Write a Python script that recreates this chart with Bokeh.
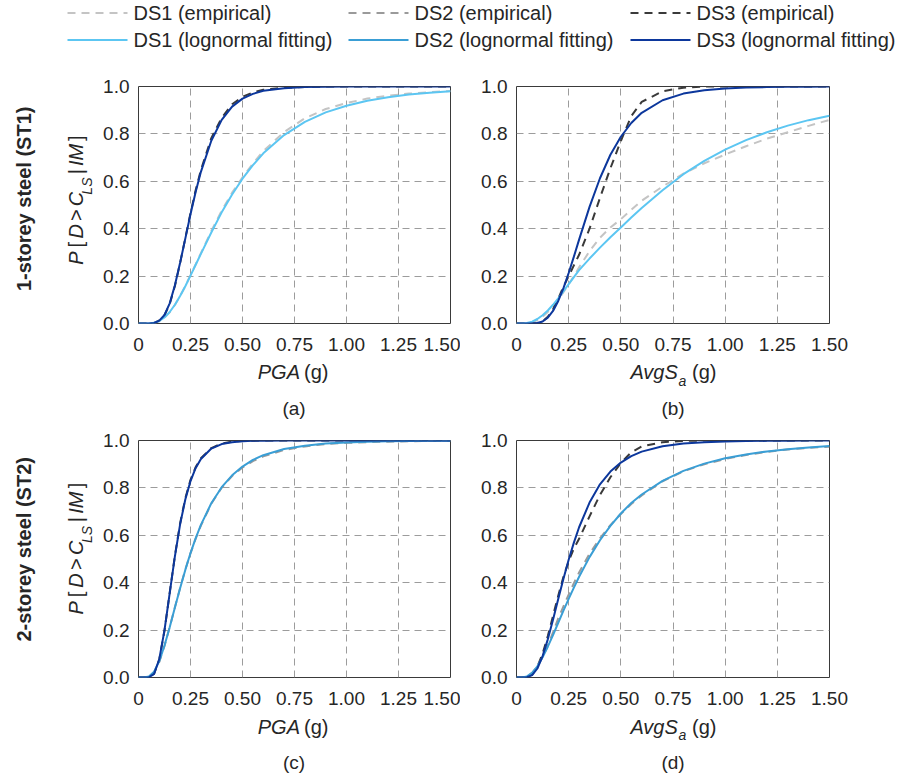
import math
from bokeh.plotting import figure
from bokeh.models import Range1d, FixedTicker, Label, CustomJSTickFormatter
from bokeh.layouts import column, row
from bokeh.embed import file_html
from bokeh.resources import INLINE

# ---------------- data ----------------
X_GRID = [0, 0.025, 0.05, 0.075, 0.1, 0.125, 0.15, 0.175, 0.2, 0.225, 0.25, 0.275, 0.3,
          0.35, 0.4, 0.45, 0.5, 0.55, 0.6, 0.7, 0.8, 0.9, 1.0, 1.1, 1.2, 1.3, 1.4, 1.5]

X_TICKS = [0, 0.25, 0.5, 0.75, 1.0, 1.25, 1.5]
X_TICK_LABELS = ["0", "0.25", "0.50", "0.75", "1.00", "1.25", "1.50"]
Y_TICKS = [0, 0.2, 0.4, 0.6, 0.8, 1.0]
Y_TICK_LABELS = ["0.0", "0.2", "0.4", "0.6", "0.8", "1.0"]

# (a) 1-storey steel, PGA
a_ds1_emp = [0, 0, 0, 0.002, 0.009, 0.024, 0.047, 0.078, 0.116, 0.158, 0.204, 0.25, 0.297,
             0.39, 0.476, 0.552, 0.617, 0.675, 0.727, 0.808, 0.866, 0.905, 0.93, 0.949, 0.961, 0.97, 0.976, 0.981]
a_ds1_fit = [0, 0, 0.0003, 0.0027, 0.0104, 0.0256, 0.0485, 0.079, 0.116, 0.157, 0.202, 0.248, 0.294,
             0.384, 0.469, 0.544, 0.611, 0.668, 0.718, 0.795, 0.851, 0.891, 0.919, 0.94, 0.955, 0.966, 0.974, 0.98]
a_ds3_emp = [0, 0, 0, 0.002, 0.013, 0.035, 0.082, 0.158, 0.255, 0.36, 0.466, 0.563, 0.648,
             0.782, 0.868, 0.925, 0.957, 0.975, 0.986, 0.995, 0.998, 1, 1, 1, 1, 1, 1, 1]
a_ds3_fit = [0, 0, 0, 0.002, 0.012, 0.036, 0.085, 0.161, 0.256, 0.358, 0.461, 0.556, 0.64,
             0.771, 0.859, 0.915, 0.949, 0.969, 0.982, 0.993, 0.9975, 0.999, 1, 1, 1, 1, 1, 1]

# (b) 1-storey steel, AvgSa
b_ds1_emp = [0, 0, 0.001, 0.005, 0.014, 0.029, 0.049, 0.073, 0.101, 0.132, 0.165, 0.2, 0.237,
             0.305, 0.362, 0.405, 0.44, 0.48, 0.518, 0.578, 0.632, 0.676, 0.713, 0.748, 0.78, 0.807, 0.834, 0.859]
b_ds1_fit = [0, 0, 0.002, 0.008, 0.019, 0.035, 0.055, 0.079, 0.106, 0.136, 0.166, 0.196, 0.225,
             0.274, 0.32, 0.364, 0.405, 0.447, 0.487, 0.562, 0.63, 0.686, 0.734, 0.774, 0.807, 0.835, 0.858, 0.877]
b_ds3_emp = [0, 0, 0, 0, 0.002, 0.009, 0.028, 0.06, 0.105, 0.155, 0.2, 0.245, 0.29,
             0.4, 0.53, 0.655, 0.77, 0.875, 0.935, 0.98, 0.995, 1, 1, 1, 1, 1, 1, 1]
b_ds3_fit = [0, 0, 0, 0.0002, 0.0018, 0.0084, 0.0244, 0.053, 0.095, 0.149, 0.213, 0.282, 0.354,
             0.492, 0.613, 0.712, 0.788, 0.846, 0.889, 0.942, 0.97, 0.9845, 0.9918, 0.9956, 0.9976, 0.9987, 0.9993, 0.9996]

# (c) 2-storey steel, PGA
c_ds2_emp = [0, 0, 0.003, 0.022, 0.066, 0.133, 0.212, 0.296, 0.378, 0.455, 0.524, 0.586, 0.641,
             0.733, 0.801, 0.85, 0.886, 0.913, 0.933, 0.96, 0.975, 0.985, 0.99, 0.993, 0.995, 0.997, 0.998, 0.999]
c_ds2_fit = [0, 0.0001, 0.004, 0.0247, 0.069, 0.135, 0.212, 0.295, 0.377, 0.454, 0.525, 0.588, 0.644,
             0.735, 0.803, 0.853, 0.89, 0.918, 0.938, 0.964, 0.978, 0.987, 0.992, 0.995, 0.997, 0.998, 0.9985, 0.999]
c_ds3_emp = [0, 0, 0.001, 0.016, 0.076, 0.198, 0.357, 0.514, 0.65, 0.756, 0.834, 0.888, 0.925,
             0.968, 0.987, 0.995, 0.998, 0.999, 1, 1, 1, 1, 1, 1, 1, 1, 1, 1]
c_ds3_fit = [0, 0, 0.0007, 0.0154, 0.078, 0.2, 0.356, 0.511, 0.646, 0.751, 0.829, 0.884, 0.922,
             0.966, 0.985, 0.993, 0.997, 0.9985, 0.999, 1, 1, 1, 1, 1, 1, 1, 1, 1]

# (d) 2-storey steel, AvgSa
d_ds2_emp = [0, 0, 0.004, 0.02, 0.047, 0.086, 0.135, 0.19, 0.25, 0.3, 0.35, 0.398, 0.443,
             0.522, 0.587, 0.643, 0.69, 0.732, 0.768, 0.828, 0.87, 0.9, 0.922, 0.939, 0.952, 0.962, 0.969, 0.974]
d_ds2_fit = [0, 0.0002, 0.0045, 0.0197, 0.047, 0.085, 0.13, 0.179, 0.231, 0.282, 0.332, 0.379, 0.425,
             0.508, 0.579, 0.64, 0.692, 0.736, 0.772, 0.83, 0.872, 0.9025, 0.925, 0.941, 0.954, 0.9634, 0.9708, 0.9764]
d_ds3_emp = [0, 0, 0.001, 0.012, 0.045, 0.1, 0.175, 0.26, 0.345, 0.425, 0.49, 0.545, 0.585,
             0.68, 0.77, 0.845, 0.905, 0.95, 0.975, 0.993, 0.998, 1, 1, 1, 1, 1, 1, 1]
d_ds3_fit = [0, 0, 0.001, 0.01, 0.038, 0.09, 0.161, 0.244, 0.331, 0.417, 0.497, 0.569, 0.634,
             0.738, 0.815, 0.869, 0.907, 0.934, 0.953, 0.976, 0.987, 0.993, 0.996, 0.998, 0.9985, 0.999, 0.9995, 0.9997]

LEGEND_LABELS = ["DS1 (empirical)", "DS2 (empirical)", "DS3 (empirical)",
                 "DS1 (lognormal fitting)", "DS2 (lognormal fitting)", "DS3 (lognormal fitting)"]
ROW_LABELS = ["1-storey steel (ST1)", "2-storey steel (ST2)"]
CAPTIONS = ["(a)", "(b)", "(c)", "(d)"]

# ---------------- styles ----------------
FONT = "Liberation Sans"
TXT = "#262626"
EMP_COL = {1: "#c4c4c4", 2: "#9a9a9a", 3: "#3a3a3a"}
FIT_COL = {1: "#5cc6f2", 2: "#3a9ed5", 3: "#0c379c"}
DASH = "8 6"
LW = 2

EM = {"P": .667, "[": .278, "D": .722, ">": .584, "C": .722, "L": .556, "S": .667, "|": .26,
      "I": .278, "M": .833, "]": .278, " ": .325, "G": .778, "A": .667, "v": .5, "g": .556,
      "(": .333, ")": .333, "a": .556}


def tw(s, size):
    return sum(EM.get(ch, .556) for ch in s) * size


FRAME_W, FRAME_H = 313, 237
TOTAL_W = 900


def blank_fig(width, height):
    p = figure(width=width, height=height, x_range=Range1d(0, width), y_range=Range1d(height, 0),
               output_backend="svg", toolbar_location=None,
               min_border_left=0, min_border_right=0, min_border_top=0, min_border_bottom=0)
    p.axis.visible = False
    p.grid.visible = False
    p.outline_line_color = None
    p.background_fill_color = "white"
    p.border_fill_color = "white"
    return p


def lab(p, text, x, y, size=20, style="normal", align="center", baseline="middle", angle=0.0):
    p.add_layout(Label(x=x, y=y, text=text, angle=angle,
                       text_font=FONT, text_font_size=f"{size}px", text_font_style=style,
                       text_color=TXT, text_align=align, text_baseline=baseline))


def make_panel(width, height, left, right, top, bottom):
    p = figure(width=width, height=height, x_range=Range1d(0, 1.5), y_range=Range1d(0, 1.0),
               output_backend="svg", toolbar_location=None,
               min_border_left=left, min_border_right=right,
               min_border_top=top, min_border_bottom=bottom)
    p.background_fill_color = "white"
    p.border_fill_color = "white"
    p.outline_line_color = "#3a3a3a"
    p.outline_line_width = 1
    p.outline_line_alpha = 1
    code = """
        let b = 0, bd = Infinity;
        for (let i = 0; i < tv.length; i++) { const d = Math.abs(tv[i] - tick); if (d < bd) { bd = d; b = i; } }
        return tl[b];"""
    p.xaxis.ticker = FixedTicker(ticks=X_TICKS)
    p.yaxis.ticker = FixedTicker(ticks=Y_TICKS)
    p.xaxis.formatter = CustomJSTickFormatter(args=dict(tv=X_TICKS, tl=X_TICK_LABELS), code=code)
    p.yaxis.formatter = CustomJSTickFormatter(args=dict(tv=Y_TICKS, tl=Y_TICK_LABELS), code=code)
    for ax, so in ((p.xaxis, 14), (p.yaxis, 9)):
        ax.axis_line_color = None
        ax.major_tick_line_color = None
        ax.minor_tick_line_color = None
        ax.major_tick_in = 0
        ax.major_tick_out = 0
        ax.minor_tick_in = 0
        ax.minor_tick_out = 0
        ax.major_label_standoff = so
        ax.major_label_text_font = FONT
        ax.major_label_text_font_size = "19px"
        ax.major_label_text_color = TXT
    p.xgrid.ticker = FixedTicker(ticks=X_TICKS)
    p.ygrid.ticker = FixedTicker(ticks=Y_TICKS)
    for g in (p.xgrid, p.ygrid):
        g.grid_line_color = "#9c9c9c"
        g.grid_line_dash = "7 5"
        g.grid_line_width = 1
        g.grid_line_alpha = 1
    return p


def add_curves(p, emp_list, fit_list):
    for ds, ys in emp_list:
        p.line(X_GRID, ys, line_color=EMP_COL[ds], line_width=LW, line_dash=DASH)
    for ds, ys in fit_list:
        p.line(X_GRID, ys, line_color=FIT_COL[ds], line_width=LW)


def left_labels(height, row_label, row_cy, ylab_cy):
    p = blank_fig(100, height)
    lab(p, row_label, 23, row_cy, size=20, style="bold", angle=math.pi / 2)
    pieces = [("P", "italic", 20), (" ", None, 20), ("[", "normal", 20), (" ", None, 20),
              ("D", "italic", 20), (" ", None, 20), (">", "normal", 20), (" ", None, 20),
              ("C", "italic", 20), ("LS", "sub", 14), (" ", None, 20), ("|", "normal", 20),
              (" ", None, 20), ("IM", "italic", 20), (" ", None, 20), ("]", "normal", 20)]
    total = sum(tw(t, s) for t, _, s in pieces)
    pos = ylab_cy + total / 2
    for t, style, size in pieces:
        w = tw(t, size)
        if style is not None:
            if style == "sub":
                lab(p, t, 86, pos - w / 2, size=size, style="italic", angle=math.pi / 2)
            else:
                lab(p, t, 75, pos - w / 2, size=size, style=style, angle=math.pi / 2)
        pos -= w
    return p


def caption_strip(height, captions, lab_y, cap_y):
    p = blank_fig(TOTAL_W, height)
    centers = [137 + FRAME_W / 2, 516 + FRAME_W / 2]
    cx = centers[0]
    w = tw("PGA", 20)
    lab(p, "PGA", cx + 6 - w / 2, lab_y, size=20, style="italic")
    w = tw("(g)", 20)
    lab(p, "(g)", cx + 10 + w / 2, lab_y, size=20)
    cx = centers[1]
    w = tw("AvgS", 20)
    lab(p, "AvgS", cx + 5 - w / 2, lab_y, size=20, style="italic")
    w = tw("a", 14)
    lab(p, "a", cx + 5.5 + w / 2, lab_y + 8.5, size=14, style="italic")
    w = tw("(g)", 20)
    lab(p, "(g)", cx + 19 + w / 2, lab_y, size=20)
    for c, text in zip(centers, captions):
        lab(p, text, c, cap_y, size=19)
    return p


# ---------------- legend ----------------
leg = blank_fig(TOTAL_W, 70)
col_x = [67, 348, 630]
row_y = [12.5, 39.5]
for i, name in enumerate(LEGEND_LABELS):
    r, c = divmod(i, 3)
    ds = c + 1
    x0 = col_x[c]
    y0 = row_y[r]
    if r == 0:
        leg.line([x0, x0 + 60], [y0, y0], line_color=EMP_COL[ds], line_width=LW, line_dash=DASH)
    else:
        leg.line([x0, x0 + 60], [y0, y0], line_color=FIT_COL[ds], line_width=LW)
    lab(leg, name, x0 + 66, y0, size=20, align="left")

# ---------------- panels ----------------
pa = make_panel(360, 288, 37, 10, 16, 35)
pb = make_panel(440, 288, 56, 71, 16, 35)
pc = make_panel(360, 282, 37, 10, 10, 35)
pd = make_panel(440, 282, 56, 71, 10, 35)

add_curves(pa, [(1, a_ds1_emp), (3, a_ds3_emp)], [(1, a_ds1_fit), (3, a_ds3_fit)])
add_curves(pb, [(1, b_ds1_emp), (3, b_ds3_emp)], [(1, b_ds1_fit), (3, b_ds3_fit)])
add_curves(pc, [(2, c_ds2_emp), (3, c_ds3_emp)], [(2, c_ds2_fit), (3, c_ds3_fit)])
add_curves(pd, [(2, d_ds2_emp), (3, d_ds3_emp)], [(2, d_ds2_fit), (3, d_ds3_fit)])

left1 = left_labels(288, ROW_LABELS[0], 136.5, 137.5)
left2 = left_labels(282, ROW_LABELS[1], 129.5, 128.3)
cap1 = caption_strip(72, CAPTIONS[:2], 13.7, 50)
cap2 = caption_strip(64, CAPTIONS[2:], 14, 50)

layout = column(leg, row(left1, pa, pb), cap1, row(left2, pc, pd), cap2)

with open("out.html", "w") as f:
    f.write(file_html(layout, INLINE))
